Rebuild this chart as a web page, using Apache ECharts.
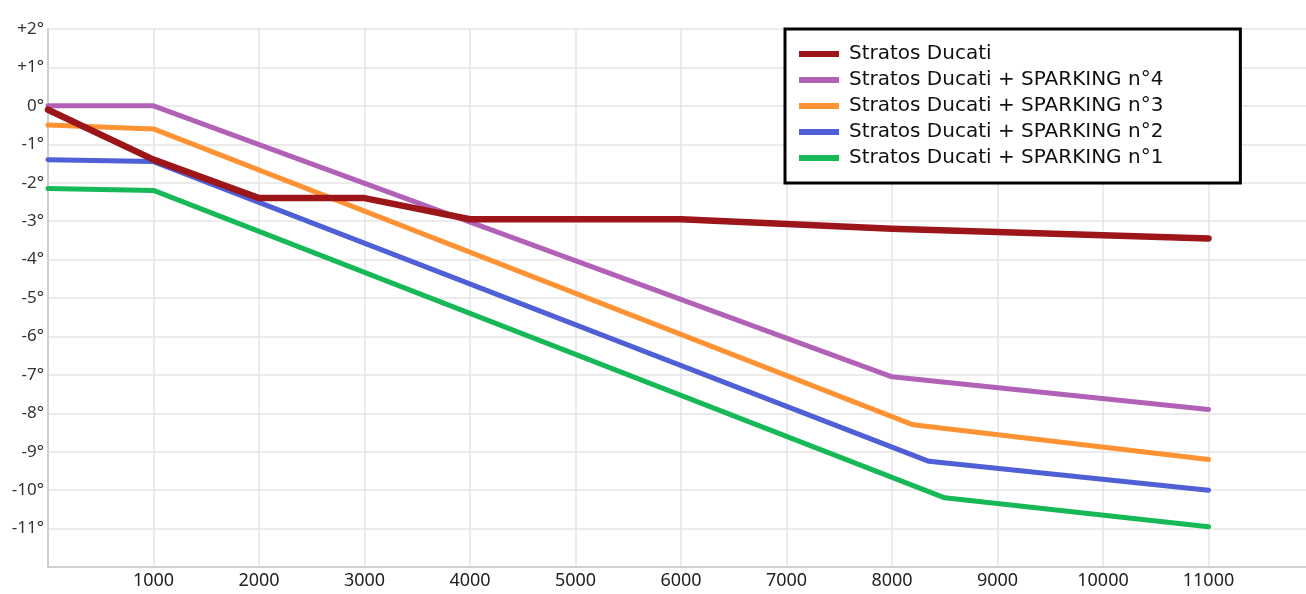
<!DOCTYPE html>
<html><head><meta charset="utf-8">
<script src="https://cdn.jsdelivr.net/npm/echarts@6/dist/echarts.min.js"></script>
<style>html,body{margin:0;padding:0;background:#fff}#c{width:1306px;height:594px}</style>
</head><body><div id="c"></div>
<script>
// ---- data ----
const seriesNames = [
  'Stratos Ducati',
  'Stratos Ducati + SPARKING n°4',
  'Stratos Ducati + SPARKING n°3',
  'Stratos Ducati + SPARKING n°2',
  'Stratos Ducati + SPARKING n°1'
];
const ducatiX = [0, 1000, 2000, 3000, 4000, 6000, 8000, 11000];
const ducatiY = [-0.1, -1.4, -2.4, -2.4, -2.95, -2.95, -3.2, -3.45];
const sp4X = [0, 1000, 8000, 11000];
const sp4Y = [0, 0, -7.05, -7.9];
const sp3X = [0, 1000, 8200, 11000];
const sp3Y = [-0.5, -0.6, -8.3, -9.2];
const sp2X = [0, 1000, 8350, 11000];
const sp2Y = [-1.4, -1.45, -9.25, -10.0];
const sp1X = [0, 1000, 8500, 11000];
const sp1Y = [-2.15, -2.2, -10.2, -10.95];
const xTickLabels = ['', '1000', '2000', '3000', '4000', '5000', '6000', '7000', '8000', '9000', '10000', '11000', ''];
const yTickLabels = {2: '+2°', 1: '+1°', 0: '0°', '-1': '-1°', '-2': '-2°', '-3': '-3°', '-4': '-4°', '-5': '-5°', '-6': '-6°', '-7': '-7°', '-8': '-8°', '-9': '-9°', '-10': '-10°', '-11': '-11°', '-12': ''};

// ---- styles ----
const colors = ['#9c1519', '#b262b6', '#ff9233', '#4f5fd6', '#17b957'];
const widths = [6.5, 5, 5, 5, 5];
const xs = [ducatiX, sp4X, sp3X, sp2X, sp1X];
const ys = [ducatiY, sp4Y, sp3Y, sp2Y, sp1Y];

const series = seriesNames.map((name, i) => ({
  name: name,
  type: 'line',
  data: xs[i].map((x, k) => [x, ys[i][k]]),
  showSymbol: false,
  symbol: 'none',
  color: colors[i],
  z: i === 0 ? 5 : 3,
  lineStyle: {color: colors[i], width: widths[i], cap: 'round', join: 'round'},
  emphasis: {disabled: true},
  animation: false
}));

const chart = echarts.init(document.getElementById('c'), null, {renderer: 'canvas'});
chart.setOption({
  backgroundColor: '#fff',
  animation: false,
  grid: {left: 48, right: -8, top: 29, bottom: 27, containLabel: false, outerBoundsMode: 'none'},
  xAxis: {
    type: 'value', min: 0, max: 12000, interval: 1000,
    axisLine: {show: true, onZero: false, lineStyle: {color: '#cfcfcf', width: 2}},
    axisTick: {show: false},
    splitLine: {show: true, lineStyle: {color: '#e4e4e4', width: 1.5}},
    axisLabel: {
      margin: 5, fontSize: 18, color: '#222', fontFamily: 'Noto Sans',
      formatter: v => xTickLabels[Math.round(v / 1000)] || ''
    }
  },
  yAxis: {
    type: 'value', min: -12, max: 2, interval: 1,
    axisLine: {show: true, onZero: false, lineStyle: {color: '#cfcfcf', width: 2}},
    axisTick: {show: false},
    splitLine: {show: true, lineStyle: {color: '#e4e4e4', width: 1.5}},
    axisLabel: {
      margin: 4, fontSize: 17, color: '#333', fontFamily: 'Noto Sans',
      formatter: v => (yTickLabels[v] !== undefined ? yTickLabels[v] : '')
    }
  },
  legend: {
    data: seriesNames,
    orient: 'vertical',
    left: 785, top: 29,
    icon: 'rect',
    itemWidth: 40, itemHeight: 6, itemGap: 4,
    padding: [14, 77, 14, 14],
    borderColor: '#000', borderWidth: 3,
    backgroundColor: '#fff',
    selectedMode: false,
    textStyle: {fontSize: 20, color: '#111', fontFamily: 'DejaVu Sans', lineHeight: 22, padding: [0, 0, 0, 5]}
  },
  series: series
});
</script>
</body></html>
